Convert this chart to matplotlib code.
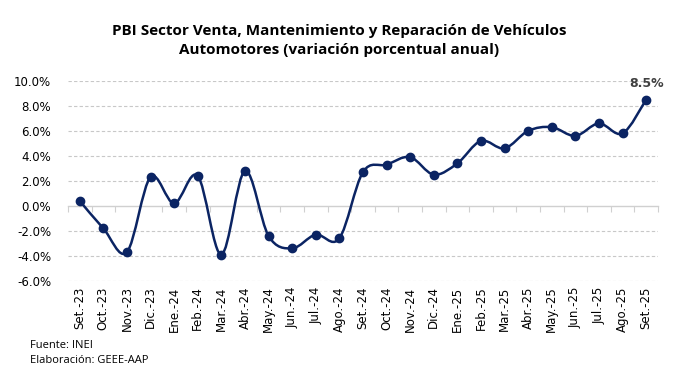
import numpy as np
import matplotlib.pyplot as plt
from matplotlib.path import Path
from matplotlib.patches import PathPatch

meses = ['Set.-23', 'Oct.-23', 'Nov.-23', 'Dic.-23', 'Ene.-24', 'Feb.-24', 'Mar.-24',
         'Abr.-24', 'May.-24', 'Jun.-24', 'Jul.-24', 'Ago.-24', 'Set.-24', 'Oct.-24',
         'Nov.-24', 'Dic.-24', 'Ene.-25', 'Feb.-25', 'Mar.-25', 'Abr.-25', 'May.-25',
         'Jun.-25', 'Jul.-25', 'Ago.-25', 'Set.-25']
variacion = [0.4, -1.8, -3.7, 2.3, 0.2, 2.4, -3.9, 2.8, -2.4, -3.4, -2.3, -2.6,
             2.7, 3.3, 3.9, 2.5, 3.4, 5.2, 4.6, 6.0, 6.3, 5.6, 6.6, 5.8, 8.5]
yticks = [-6, -4, -2, 0, 2, 4, 6, 8, 10]

color = '#0b2463'

fig = plt.figure(figsize=(6.79, 3.78), dpi=100)
ax = fig.add_axes([0.100, 0.257, 0.869, 0.529])

x = np.arange(len(variacion))
y = np.array(variacion)

# smoothed line like excel (bezier segments between the points)
verts = [(x[0], y[0])]
codes = [Path.MOVETO]
n = len(x)
for i in range(n - 1):
    p0 = np.array([x[max(i - 1, 0)], y[max(i - 1, 0)]])
    p1 = np.array([x[i], y[i]])
    p2 = np.array([x[i + 1], y[i + 1]])
    p3 = np.array([x[min(i + 2, n - 1)], y[min(i + 2, n - 1)]])
    c1 = p1 + (p2 - p0) / 6
    c2 = p2 - (p3 - p1) / 6
    verts += [tuple(c1), tuple(c2), tuple(p2)]
    codes += [Path.CURVE4] * 3
ax.add_patch(PathPatch(Path(verts, codes), fill=False, edgecolor=color, lw=1.8, zorder=3))
ax.plot(x, y, 'o', color=color, ms=6, zorder=4)

ax.annotate(f'{variacion[-1]:.1f}%', (x[-1], y[-1]), xytext=(0, 7), textcoords='offset points',
            ha='center', va='bottom', fontsize=9, fontweight='semibold', color='#404040')

ax.set_xlim(-0.5, n - 0.5)
ax.set_ylim(-6, 10)
ax.set_yticks(yticks)
ax.set_yticklabels([f'{v:.1f}%' for v in yticks], fontsize=8.5, color='#000000')
ax.tick_params(axis='y', length=0, pad=12)
for v in yticks:
    if v != 0:
        ax.axhline(v, color='#c8c8c8', lw=0.8, ls=(0, (3, 2)), zorder=1)

for s in ['top', 'right', 'left']:
    ax.spines[s].set_visible(False)
ax.spines['bottom'].set_position(('data', 0))
ax.spines['bottom'].set_color('#d0d0d0')
ax.spines['bottom'].set_linewidth(1.0)
ax.set_xticks(np.arange(n + 1) - 0.5)
ax.tick_params(axis='x', direction='out', length=4, color='#d0d0d0', labelbottom=False)

sec = ax.secondary_xaxis(0.0)
sec.set_xticks(x)
sec.set_xticklabels(meses, rotation=90, fontsize=8.5)
sec.tick_params(length=0, pad=4)
sec.spines['bottom'].set_visible(False)

fig.text(0.5, 0.893, 'PBI Sector Venta, Mantenimiento y Reparación de Vehículos\nAutomotores (variación porcentual anual)',
         ha='center', va='center', fontsize=11, fontweight='bold', family='Open Sans', linespacing=1.5)
fig.text(0.044, 0.087, 'Fuente: INEI', fontsize=8, family='Open Sans', va='center')
fig.text(0.044, 0.047, 'Elaboración: GEEE-AAP', fontsize=8, family='Open Sans', va='center')

fig.savefig('out.png', dpi=100)
